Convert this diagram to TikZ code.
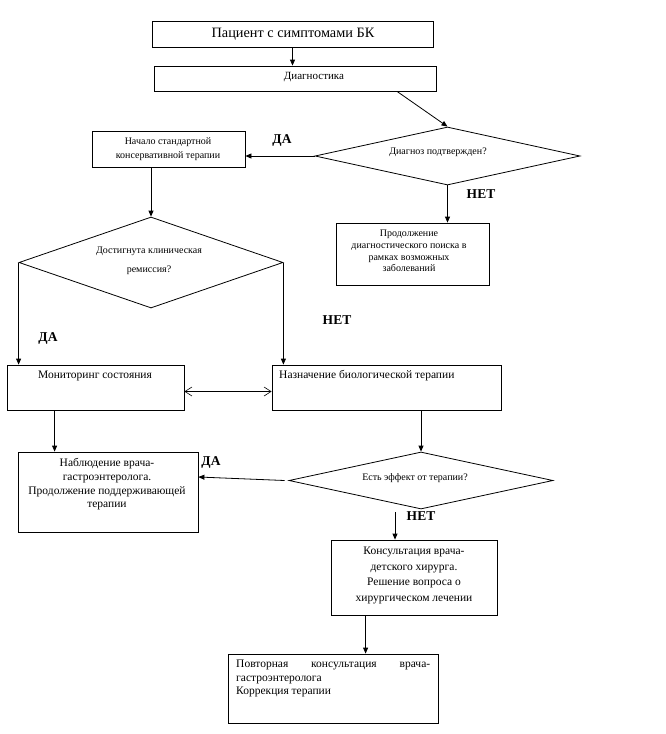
\documentclass[tikz,border=0pt]{standalone}
\usepackage{fontspec}
\setmainfont{Liberation Serif}
\usetikzlibrary{arrows.meta,shapes.geometric,calc}
\begin{document}
\begin{tikzpicture}[x=1pt,y=-1pt,
  box/.style={draw,line width=0.8pt,inner sep=0pt},
  dia/.style={draw,diamond,line width=0.8pt,inner sep=0pt},
  arr/.style={line width=0.8pt,-{Triangle[length=6pt,width=5pt]}},
  dbl/.style={line width=0.6pt,{Straight Barb[length=7pt,width=9pt]}-{Straight Barb[length=7pt,width=9pt]}},
  lbl/.style={font=\fontsize{13.5}{15}\selectfont\bfseries,inner sep=0pt},
  small/.style={font=\fontsize{10}{12}\selectfont,inner sep=0pt,align=center},
  med/.style={font=\fontsize{11.5}{14}\selectfont,inner sep=0pt,align=center}]
\useasboundingbox[fill=white] (0,0) rectangle (666,734);
% boxes
\node[box,minimum width=281pt,minimum height=26pt] (b1) at (292.5,34) {};
\node[font=\fontsize{14.3}{16}\selectfont,inner sep=0pt] (t1) at (293,34) {Пациент с симптомами БК};
\node[box,minimum width=282pt,minimum height=25pt] (b2) at (295,78.5) {};
\node[small,font=\fontsize{11}{12}\selectfont] (t2) at (314,77) {Диагностика};
\node[box,minimum width=153pt,minimum height=36pt] (b3) at (168.5,149) {};
\node[small,font=\fontsize{10}{14}\selectfont] (t3) at (168,149) {Начало стандартной\\консервативной терапии};
\node[box,minimum width=153pt,minimum height=62pt] (b4) at (412.5,254) {};
\node[small,font=\fontsize{10}{11.7}\selectfont] (t4) at (409,251) {Продолжение\\диагностического поиска в\\рамках возможных\\заболеваний};
\node[box,minimum width=177pt,minimum height=45pt] (b5) at (95.5,387.5) {};
\node[med] (t5) at (95,376) {Мониторинг состояния};
\node[box,minimum width=229pt,minimum height=45pt] (b6) at (386.5,387.5) {};
\node[med,anchor=west] (t6) at (279,376) {Назначение биологической терапии};
\node[box,minimum width=180pt,minimum height=80pt] (b7) at (108,492) {};
\node[med,font=\fontsize{11.5}{13.7}\selectfont] (t7) at (107,484.5) {Наблюдение врача-\\гастроэнтеролога.\\Продолжение поддерживающей\\терапии};
\node[box,minimum width=166pt,minimum height=75pt] (b8) at (414,577.5) {};
\node[med,font=\fontsize{11.5}{15.5}\selectfont] (t8) at (414,575.5) {Консультация врача-\\детского хирурга.\\Решение вопроса о\\хирургическом лечении};
\node[box,minimum width=210pt,minimum height=69pt] (b9) at (333,688.5) {};
\node[font=\fontsize{11.5}{13.5}\selectfont,inner sep=0pt,text width=194pt,align=justify,anchor=north west] (t9) at (236,660) {Повторная консультация врача-\linebreak гастроэнтеролога\\Коррекция терапии};
% diamonds
\node[dia,minimum width=265pt,minimum height=58pt] (d1) at (447.5,156) {};
\node[small] (td1) at (438,152) {Диагноз подтвержден?};
\node[dia,minimum width=264pt,minimum height=91pt] (d2) at (151,262.5) {};
\node[small,font=\fontsize{10}{19}\selectfont] (td2) at (149,260.5) {Достигнута клиническая\\ремиссия?};
\node[dia,minimum width=264pt,minimum height=57pt] (d3) at (421,480.5) {};
\node[small] (td3) at (415,478) {Есть эффект от терапии?};
% labels
\node[lbl] (l1) at (282,140) {ДА};
\node[lbl] (l2) at (481,194) {НЕТ};
\node[lbl] (l3) at (48,338) {ДА};
\node[lbl] (l4) at (337,320) {НЕТ};
\node[lbl] (l5) at (211,462) {ДА};
\node[lbl] (l6) at (421,516) {НЕТ};
% connectors
\draw[arr] (b1.south) -- (b1.south |- b2.north);
\draw[arr] ([xshift=102pt]b2.south) -- (d1.north);
\draw[arr] (d1.west) -- (d1.west -| b3.east);
\draw[arr] (d1.south) -- (d1.south |- b4.north);
\draw[arr] (d2.north |- b3.south) -- (d2.north);
\draw[arr] (d2.west) -- (d2.west |- b5.north);
\draw[arr] (d2.east) -- (d2.east |- b6.north);
\draw[dbl] ([yshift=-4pt]b5.east) -- ([yshift=-4pt]b6.west);
\draw[arr] ([xshift=48pt]b5.south west) -- ([xshift=48pt]b5.south west |- b7.north);
\draw[arr] (d3.north |- b6.south) -- (d3.north);
\draw[arr] ([xshift=-4pt]d3.west) -- ([yshift=15pt]b7.east);
\draw[arr] ([xshift=-26pt,yshift=-3pt]d3.south) -- ([xshift=-26pt]d3.south |- b8.north);
\draw[arr] ([xshift=35pt]b8.south west) -- ([xshift=35pt]b8.south west |- b9.north);
\end{tikzpicture}
\end{document}
